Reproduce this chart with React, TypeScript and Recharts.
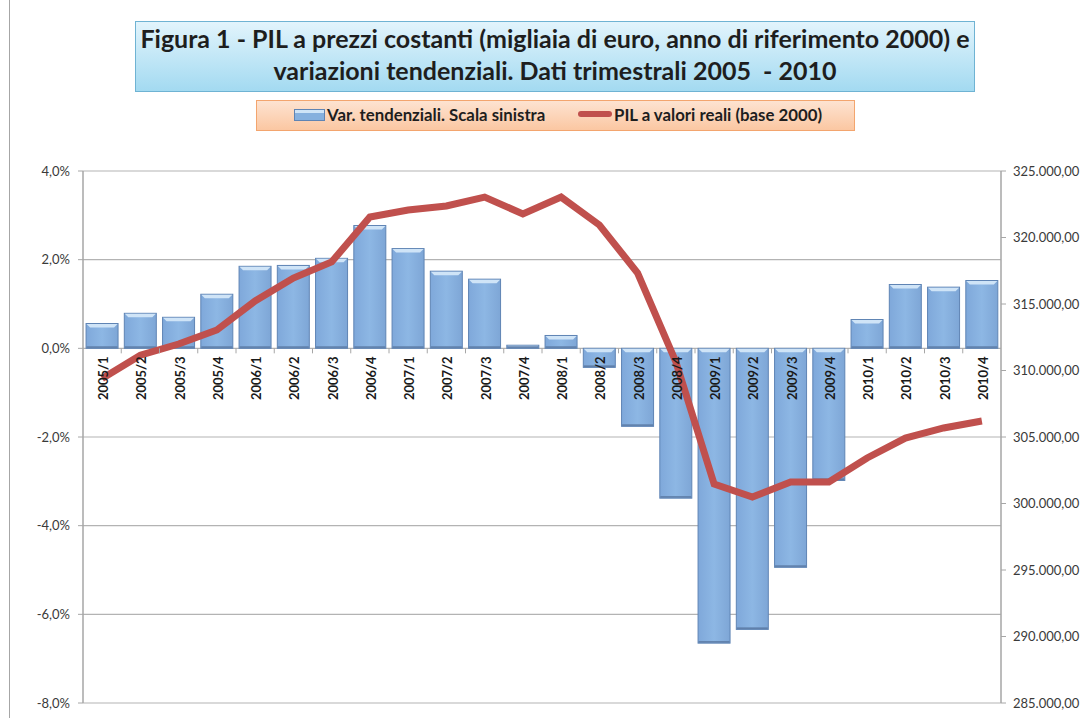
import {
  Bar,
  CartesianGrid,
  ComposedChart,
  LabelList,
  Line,
  XAxis,
  YAxis,
} from "recharts";

const quarters = [
  "2005/1", "2005/2", "2005/3", "2005/4",
  "2006/1", "2006/2", "2006/3", "2006/4",
  "2007/1", "2007/2", "2007/3", "2007/4",
  "2008/1", "2008/2", "2008/3", "2008/4",
  "2009/1", "2009/2", "2009/3", "2009/4",
  "2010/1", "2010/2", "2010/3", "2010/4",
];

// Var. tendenziali (%), left axis
const variazioni = [
  0.56, 0.79, 0.7, 1.22,
  1.85, 1.87, 2.03, 2.77,
  2.25, 1.74, 1.56, 0.07,
  0.29, -0.43, -1.76, -3.38,
  -6.65, -6.34, -4.94, -2.98,
  0.65, 1.44, 1.38, 1.53,
];

// PIL a valori reali (base 2000), right axis
const pil = [
  309400, 311150, 311990, 313050,
  315230, 316950, 318160, 321540,
  322070, 322370, 323040, 321770,
  323040, 320940, 317330, 310640,
  301470, 300490, 301620, 301620,
  303420, 304920, 305680, 306200,
];

const leftTicks = [-8, -6, -4, -2, 0, 2, 4];
const rightTicks = [285000, 290000, 295000, 300000, 305000, 310000, 315000, 320000, 325000];

const data = quarters.map((q, i) => ({ q, v: variazioni[i], pil: pil[i] }));

const FONT = "Lato, 'Open Sans', sans-serif";
const CAT_GAP = 0.08;

const fmtPct = (v: number) => `${v.toFixed(1).replace(".", ",")}%`;
const fmtEuro = (v: number) => {
  const k = Math.floor(v / 1000);
  const r = String(v % 1000).padStart(3, "0");
  return `${k}.${r},00`;
};

function BevelBar(props: any) {
  const { x, y, width, height } = props;
  if (x == null || y == null) return null;
  const top = Math.min(y, y + height);
  const h = Math.abs(height);
  const b = Math.min(4, h / 2);
  return (
    <g>
      <rect x={x} y={top} width={width} height={h} fill="url(#barFill)" stroke="#5f84b4" strokeWidth={1} />
      <polygon
        points={`${x + 0.5},${top + 0.5} ${x + width - 0.5},${top + 0.5} ${x + width - b},${top + b} ${x + b},${top + b}`}
        fill="#cfe4f7"
      />
      <rect x={x + 0.5} y={top + h - 2} width={width - 1} height={1.5} fill="#5d7ca6" />
    </g>
  );
}

function QuarterLabel(props: any) {
  const vb = props.viewBox ?? props;
  const x = vb.x ?? props.x;
  const y = vb.y ?? props.y;
  const width = vb.width ?? props.width;
  const height = vb.height ?? props.height;
  const idx = props.index;
  if (x == null || y == null) return null;
  const val = variazioni[idx];
  const zeroY = val >= 0 ? Math.max(y, y + height) : Math.min(y, y + height);
  const band = width / (1 - 2 * CAT_GAP);
  const left = x - band * CAT_GAP;
  const cx = x + width / 2;
  return (
    <g>
      {idx > 0 && <line x1={left} x2={left} y1={zeroY} y2={zeroY + 5} stroke="#a6a6a6" />}
      <text
        x={cx + 1}
        y={zeroY + 8}
        transform={`rotate(-90 ${cx + 1} ${zeroY + 8})`}
        textAnchor="end"
        dominantBaseline="central"
        fontFamily={FONT}
        fontWeight="bold"
        fontSize={13}
        fill="#1a1a1a"
      >
        {quarters[idx]}
      </text>
    </g>
  );
}

export default function App() {
  return (
    <div
      style={{
        position: "absolute",
        left: 0,
        top: 0,
        width: 1086,
        height: 718,
        background: "#fff",
        overflow: "hidden",
        fontFamily: FONT,
      }}
    >
      {/* chart frame, left edge */}
      <div style={{ position: "absolute", left: 9, top: 0, width: 1, height: 718, background: "#a6a6a6" }} />

      {/* Title */}
      <div
        style={{
          position: "absolute",
          left: 135,
          top: 21,
          width: 840,
          height: 71,
          boxSizing: "border-box",
          border: "1px solid #6fb3d3",
          background: "linear-gradient(#e2f4fc, #a3daf1)",
          textAlign: "center",
          fontWeight: "bold",
          fontSize: 25,
          lineHeight: "32px",
          paddingTop: 0,
          color: "#1e1e1e",
          whiteSpace: "nowrap",
        }}
      >
        Figura 1 - PIL a prezzi costanti (migliaia di euro, anno di riferimento 2000) e
        <br />
        variazioni tendenziali. Dati trimestrali 2005 &nbsp;- 2010
      </div>

      {/* Legend */}
      <div
        style={{
          position: "absolute",
          left: 256,
          top: 100,
          width: 599,
          height: 31,
          boxSizing: "border-box",
          border: "1px solid #f3a56e",
          background: "linear-gradient(#fde3d1, #fbc7a2)",
          fontWeight: "bold",
          fontSize: 16.8,
          lineHeight: "20px",
          color: "#1e1e1e",
          whiteSpace: "nowrap",
        }}
      >
        <div style={{ position: "absolute", left: 37, top: 8, width: 31, height: 12, boxSizing: "border-box", border: "1px solid #5f84b4", background: "linear-gradient(#cfe4f7 0, #cfe4f7 25%, #86b0de 35%, #86b0de)" }} />
        <span style={{ position: "absolute", left: 70, top: 4 }}>Var. tendenziali. Scala sinistra</span>
        <div style={{ position: "absolute", left: 321, top: 10, width: 34, height: 6, borderRadius: 3, background: "#c0504d" }} />
        <span style={{ position: "absolute", left: 357, top: 4 }}>PIL a valori reali (base 2000)</span>
      </div>

      <div style={{ position: "absolute", left: 0, top: 0 }}>
        <ComposedChart
          width={1086}
          height={718}
          data={data}
          margin={{ top: 171, right: 0, bottom: 15, left: 0 }}
          barCategoryGap={`${CAT_GAP * 100}%`}
        >
          <defs>
            <linearGradient id="barFill" x1="0" y1="0" x2="1" y2="0">
              <stop offset="0" stopColor="#7fa8da" />
              <stop offset="0.5" stopColor="#8db7e4" />
              <stop offset="1" stopColor="#7ea6d6" />
            </linearGradient>
          </defs>
          <CartesianGrid yAxisId="left" vertical={false} stroke="#b3b3b3" strokeWidth={1.2} />
          <XAxis dataKey="q" hide />
          <YAxis
            yAxisId="left"
            orientation="left"
            width={83}
            domain={[-8, 4]}
            ticks={leftTicks}
            tickFormatter={fmtPct}
            axisLine={{ stroke: "#a6a6a6", strokeWidth: 1.5 }}
            tickLine={{ stroke: "#a6a6a6" }}
            tickSize={5}
            tickMargin={8}
            tick={{ fill: "#3a3a3a", fontSize: 13, fontFamily: FONT }}
          />
          <YAxis
            yAxisId="right"
            orientation="right"
            width={85}
            domain={[285000, 325000]}
            ticks={rightTicks}
            tickFormatter={fmtEuro}
            axisLine={{ stroke: "#a6a6a6", strokeWidth: 1.5 }}
            tickLine={{ stroke: "#a6a6a6" }}
            tickSize={5}
            tickMargin={7}
            tick={{ fill: "#3a3a3a", fontSize: 13, fontFamily: FONT }}
          />
          <Bar yAxisId="left" dataKey="v" shape={<BevelBar />} isAnimationActive={false}>
            <LabelList dataKey="q" content={<QuarterLabel />} />
          </Bar>
          <Line
            yAxisId="right"
            dataKey="pil"
            type="linear"
            stroke="#c0504d"
            strokeWidth={7}
            dot={false}
            activeDot={false}
            isAnimationActive={false}
          />
        </ComposedChart>
      </div>
    </div>
  );
}
